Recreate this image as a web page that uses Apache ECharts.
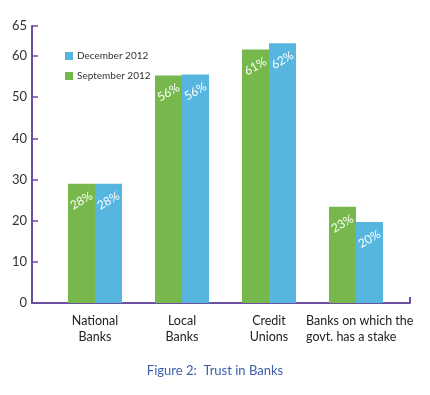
<!DOCTYPE html>
<html>
<head>
<meta charset="utf-8">
<script src="https://cdn.jsdelivr.net/npm/echarts@6/dist/echarts.min.js"></script>
<style>html,body{margin:0;padding:0;background:#fff}#c{width:430px;height:395px}</style>
</head>
<body>
<div id="c"></div>
<script>
const categories = ['National\nBanks', 'Local\nBanks', 'Credit\nUnions', 'Banks on which the\ngovt. has a stake'];
const seriesNames = ['September 2012', 'December 2012'];
const septValues = [29, 55.3, 61.6, 23.4];
const decValues = [29, 55.5, 63.1, 19.7];
const septLabels = ['28%', '56%', '61%', '23%'];
const decLabels = ['28%', '56%', '62%', '20%'];
const yTickValues = [0, 10, 20, 30, 40, 50, 60, 67.3];
const yTickLabels = ['0', '10', '20', '30', '40', '50', '60', '65'];
const yMax = 67.3;
const captionText = 'Figure 2:  Trust in Banks';

const FONT = 'Lato';
const AXIS = '#6b4fa0';
const GREEN = '#76b84c';
const BLUE = '#56b6df';

const chart = echarts.init(document.getElementById('c'), null, {renderer: 'canvas'});

function barLabel(labels) {
  return {
    show: true,
    position: ['50%', 17],
    align: 'center',
    verticalAlign: 'middle',
    rotate: 30,
    color: '#fff',
    fontFamily: FONT,
    fontSize: 12,
    formatter: p => labels[p.dataIndex]
  };
}

chart.setOption({
  animation: false,
  backgroundColor: '#fff',
  textStyle: {fontFamily: FONT},
  title: {
    text: captionText,
    left: 'center',
    top: 359,
    textStyle: {color: '#3b5ea8', fontSize: 13, fontWeight: 'normal', fontFamily: FONT}
  },
  legend: {
    data: [seriesNames[1], seriesNames[0]],
    orient: 'vertical',
    left: 60,
    top: 46,
    itemWidth: 8,
    itemHeight: 8,
    itemGap: 10,
    icon: 'rect',
    textStyle: {color: '#333', fontSize: 10, fontFamily: FONT, padding: [0, 0, 0, -1]}
  },
  grid: [
    {left: 32, right: 20, top: 26, bottom: 92},
    {left: 51.5, right: 30.5, top: 26, bottom: 92}
  ],
  xAxis: [
    {
      gridIndex: 0, type: 'value', min: 0, max: 1,
      axisLine: {show: true, lineStyle: {color: AXIS, width: 2}},
      axisTick: {show: true, inside: true, length: 6, customValues: [1], lineStyle: {color: AXIS, width: 2}},
      axisLabel: {show: false},
      splitLine: {show: false}
    },
    {
      gridIndex: 1, type: 'category', data: categories,
      axisLine: {show: false},
      axisTick: {show: false},
      axisLabel: {
        color: '#222', fontSize: 12.5, fontFamily: FONT, margin: 10, lineHeight: 16, interval: 0,
        formatter: (v, i) => i === categories.length - 1
          ? v.split('\n').map(s => '{l|' + s + '}').join('\n')
          : v,
        rich: {l: {align: 'left', width: 100, fontSize: 12.5, lineHeight: 16, color: '#222', fontFamily: FONT}}
      }
    }
  ],
  yAxis: [
    {
      gridIndex: 0, type: 'value', min: 0, max: yMax,
      axisLine: {show: true, lineStyle: {color: AXIS, width: 2}},
      axisTick: {show: true, inside: true, length: 6, customValues: yTickValues, lineStyle: {color: AXIS, width: 1.5}},
      axisLabel: {
        customValues: yTickValues, color: '#333', fontSize: 13, fontFamily: FONT, margin: 5,
        formatter: v => yTickLabels[yTickValues.indexOf(v)] ?? ''
      },
      splitLine: {show: false}
    },
    {
      gridIndex: 1, type: 'value', min: 0, max: yMax, show: false, splitLine: {show: false}
    }
  ],
  series: [
    {
      name: seriesNames[0], type: 'bar', xAxisIndex: 1, yAxisIndex: 1,
      data: septValues, barWidth: 27, barGap: '0%',
      itemStyle: {color: GREEN}, label: barLabel(septLabels)
    },
    {
      name: seriesNames[1], type: 'bar', xAxisIndex: 1, yAxisIndex: 1,
      data: decValues, barWidth: 27, barGap: '0%',
      itemStyle: {color: BLUE}, label: barLabel(decLabels)
    }
  ]
});
</script>
</body>
</html>
